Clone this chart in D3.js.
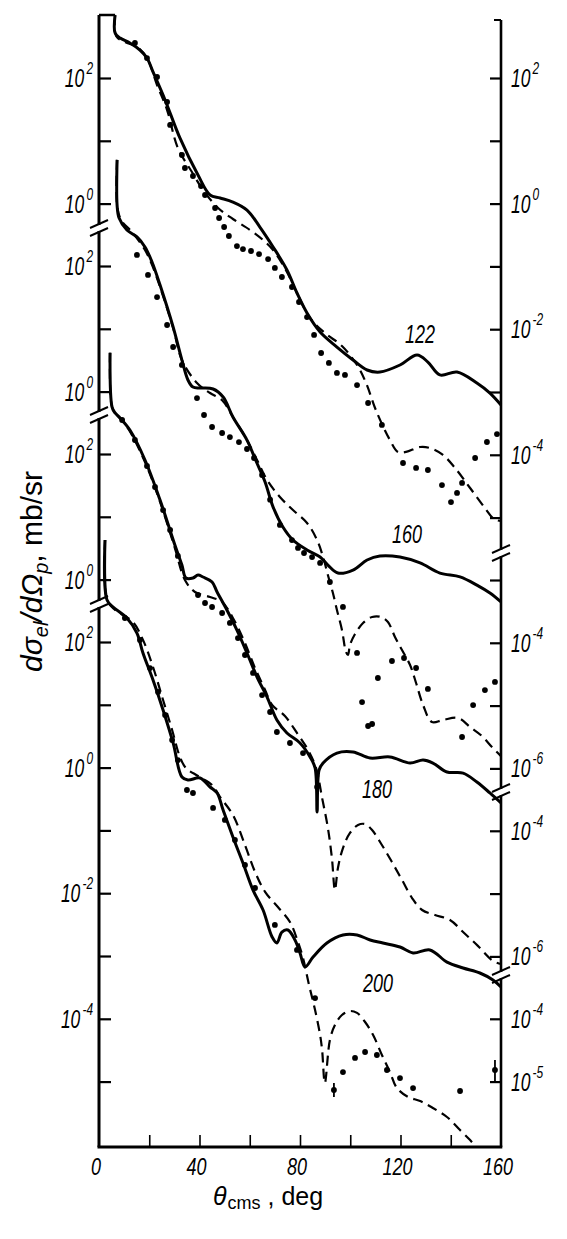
<!DOCTYPE html>
<html><head><meta charset="utf-8">
<script src="https://cdn.jsdelivr.net/npm/d3@7"></script>
<style>html,body{margin:0;padding:0;background:#fff}svg{display:block}</style>
</head><body>
<svg id="c" width="567" height="1239"></svg>
<script>
// ---------------- DATA (theta in deg, cross section in mb/sr) ----------------
const energies = ["122", "160", "180", "200"];
const xTickValues = [20, 40, 60, 80, 100, 120, 140];
const xTickLabels = [0, 40, 80, 120, 160];

// 122 MeV
const s122 = [[6.4,1000],[6.4,520],[8.4,433],[12.3,361],[16.3,279],[19.1,208],[21.5,125],[26.3,44.7],[32.2,11.1],[39.4,2.85],[44.2,1.37],[48.2,1.23],[53.3,1.06],[58.9,0.79],[64.1,0.42],[69.3,0.204],[74.8,0.0877],[78.8,0.0377],[82.8,0.0181],[88.0,0.009],[94.7,0.0052],[101.1,0.00324],[106.7,0.00224],[111.8,0.00208],[119.8,0.00269],[126.6,0.00388],[130.9,0.003],[135.7,0.00187],[142.5,0.00208],[150.4,0.00139],[155.6,0.00096],[160,0.00062]];
const d122 = [[6.4,1000],[6.8,467],[10.3,374],[15.1,312],[19.1,208],[23.1,77.4],[27.1,30.9],[31.4,7.67],[37.0,3.18],[41.4,1.65],[47.4,0.85],[53.3,0.569],[60.1,0.38],[65.3,0.263],[69.3,0.182],[74.8,0.0815],[78.8,0.0377],[84.0,0.0151],[89.9,0.0087],[96.7,0.0054],[102.7,0.00269],[106.3,0.00139],[110.2,0.000516],[115.8,0.000172],[119.0,0.000111],[122.2,0.000111],[127.8,0.000133],[131.7,0.000128],[136.9,0.0000993],[141.7,0.0000617],[147.7,0.0000296],[153.6,0.0000142],[157.2,0.0000095],[160,0.0000088]];
const o122 = [[14.3,361],[19.1,208],[23.1,104],[27.1,41.5],[28.3,17.9],[33.0,5.94],[34.2,3.69],[37.4,2.75],[40.6,1.9],[42.2,1.37],[46.2,0.851],[47.8,0.59],[49.8,0.424],[51.7,0.305],[54.9,0.211],[57.3,0.189],[60.5,0.176],[63.7,0.157],[67.3,0.131],[70.0,0.0944],[72.8,0.0678],[76.8,0.047],[79.6,0.0271],[82.8,0.0156],[85.6,0.0081],[88.4,0.00418],[91.5,0.0029],[94.7,0.00201],[97.9,0.00187],[102.7,0.00129],[107.1,0.000668],[112.6,0.000299],[121.0,0.000074],[126.2,0.0000617],[130.9,0.0000573],[136.5,0.000033],[140.1,0.0000177],[142.5,0.0000247],[144.5,0.0000356],[149.7,0.0000889],[154.4,0.00016],[158.4,0.000214]];

// 160 MeV
const s160 = [[7.2,4900],[7.2,935],[8.0,581],[11.1,374],[15.1,290],[18.3,201],[21.1,116],[24.3,49.8],[29.5,10.7],[33.0,3.18],[35.4,1.53],[37.4,1.18],[40.2,1.14],[45.4,1.1],[49.4,0.82],[53.3,0.394],[58.9,0.169],[62.5,0.0785],[66.1,0.0364],[69.3,0.0145],[73.2,0.00698],[77.2,0.00433],[82.8,0.00301],[88.0,0.00232],[91.1,0.00173],[95.1,0.00129],[101.1,0.00144],[106.7,0.00208],[111.8,0.00241],[119.8,0.00232],[127.8,0.00187],[135.7,0.00129],[143.7,0.00112],[150.4,0.00083],[155.6,0.00062],[160,0.000447]];
const d160 = [[7.2,4900],[7.2,935],[8.8,540],[13.5,335],[18.3,180],[21.1,104],[24.3,46.4],[29.5,10.3],[33.0,3.18],[39.0,1.37],[44.2,0.95],[49.0,0.73],[53.3,0.394],[58.9,0.169],[63.3,0.0757],[66.9,0.0391],[72.0,0.021],[77.2,0.013],[82.8,0.0081],[86.8,0.00433],[89.2,0.00232],[91.1,0.0012],[93.1,0.00062],[94.7,0.000333],[96.7,0.00016],[98.3,0.0000715],[99.1,0.000064],[99.9,0.0000923],[101.9,0.000138],[105.1,0.000207],[108.7,0.000258],[112.2,0.000258],[115.0,0.000214],[117.8,0.000124],[120.6,0.0000767],[123.8,0.0000443],[126.2,0.0000229],[129.0,0.0000102],[132.5,0.00000548],[136.9,0.0000059],[142.9,0.00000635],[147.7,0.00000456],[152.4,0.00000328],[156.4,0.00000219],[160,0.00000157]];
const o160 = [[15.1,150],[19.5,72],[23.1,32],[27.1,11.5],[29.5,5.13],[33.0,2.66],[39.0,0.79],[41.8,0.424],[45.0,0.273],[49.0,0.219],[52.1,0.189],[55.7,0.157],[58.9,0.122],[61.7,0.0877],[64.9,0.047],[68.1,0.019],[72.0,0.00752],[76.8,0.00433],[79.2,0.00324],[81.6,0.00269],[84.8,0.00232],[88.0,0.00187],[91.9,0.00093],[97.1,0.000372],[102.7,0.0000689],[104.7,0.0000114],[107.1,0.00000473],[108.7,0.00000509],[111.0,0.0000275],[116.6,0.0000513],[121.4,0.0000573],[126.2,0.0000397],[130.9,0.0000184],[144.5,0.00000316],[148.9,0.0000102],[153.6,0.0000177],[157.6,0.0000238]];

// 180 MeV
const s180 = [[4.4,4100],[5.2,560],[6.4,450],[8.4,374],[12.3,241],[18.3,80.2],[24.3,18.5],[30.2,3.56],[33.0,1.71],[34.6,1.06],[37.4,1.06],[39.4,1.18],[41.4,1.1],[45.0,0.916],[47.0,0.635],[50.9,0.328],[54.9,0.157],[58.9,0.0678],[62.9,0.0281],[66.9,0.0135],[70.8,0.00581],[74.8,0.00361],[80.0,0.0025],[84.0,0.0015],[86.0,0.001],[86.8,0.000199],[87.6,0.00093],[89.2,0.0012],[94.7,0.00173],[101.1,0.0018],[107.9,0.00144],[115.8,0.0015],[123.8,0.0012],[129.0,0.00134],[132.9,0.0012],[138.5,0.000863],[144.9,0.00083],[150.4,0.000598],[155.6,0.0004],[160,0.000277]];
const d180 = [[4.4,4100],[5.2,560],[7.2,418],[11.5,259],[18.3,74.6],[24.3,17.2],[30.2,3.18],[34.2,0.986],[38.2,0.635],[44.2,0.528],[49.0,0.44],[53.3,0.245],[58.1,0.0977],[62.1,0.0391],[66.1,0.0175],[68.9,0.0101],[74.0,0.00673],[78.8,0.00361],[83.2,0.00194],[86.4,0.001],[88.8,0.000333],[91.1,0.000111],[92.7,0.0000369],[93.9,0.0000114],[95.1,0.0000256],[97.1,0.0000532],[99.9,0.0000923],[103.1,0.000124],[105.9,0.000128],[108.7,0.000103],[112.6,0.0000594],[116.6,0.0000318],[120.6,0.0000165],[124.6,0.0000085],[128.6,0.00000548],[133.7,0.00000456],[139.7,0.0000038],[144.9,0.00000245],[150.8,0.00000147],[156.8,0.000000845],[160,0.000000757]];
const o180 = [[9.2,348],[14.3,167],[19.1,64.4],[22.3,29.8],[25.5,12.8],[28.3,6.17],[31.4,2.38],[39.4,0.569],[42.2,0.424],[45.0,0.366],[49.0,0.294],[52.1,0.204],[55.3,0.117],[58.1,0.063],[61.3,0.0326],[64.9,0.0145],[68.1,0.0078],[70.8,0.00374],[76.0,0.0025],[81.2,0.00173],[86.8,0.000498]];

// 200 MeV
const s200 = [[2.4,4200],[3.2,467],[5.6,361],[11.1,241],[15.1,139],[17.5,66.8],[21.5,24.8],[25.5,8.26],[29.5,2.47],[33.0,0.708],[35.4,0.635],[40.2,0.683],[44.2,0.491],[47.0,0.394],[49.4,0.211],[53.3,0.0785],[57.3,0.0303],[61.3,0.0112],[65.3,0.0054],[68.9,0.00201],[70.8,0.00161],[72.8,0.00241],[75.2,0.00259],[78.0,0.0018],[80.0,0.00112],[82.0,0.000668],[85.2,0.00096],[90.7,0.00161],[97.1,0.00216],[102.7,0.00216],[107.9,0.0018],[113.0,0.00161],[119.8,0.00139],[125.0,0.00112],[131.7,0.00125],[138.5,0.0008],[144.9,0.000644],[151.6,0.000536],[156.8,0.000415],[160,0.000321]];
const d200 = [[2.4,4200],[3.2,467],[6.4,324],[13.5,208],[17.5,108],[21.5,40],[25.5,11.9],[29.1,3.97],[32.2,1.48],[34.6,0.986],[39.4,0.734],[45.0,0.528],[48.2,0.34],[53.3,0.176],[58.1,0.0586],[62.1,0.0218],[66.1,0.0105],[71.2,0.00603],[76.0,0.00348],[79.2,0.00167],[81.2,0.00093],[83.6,0.000345],[86.0,0.000138],[88.0,0.0000552],[88.8,0.0000318],[89.9,0.0000095],[91.9,0.0000459],[93.9,0.0000796],[96.7,0.000115],[99.9,0.000133],[102.7,0.000124],[105.9,0.0000889],[109.1,0.0000552],[112.6,0.0000265],[115.8,0.0000142],[118.6,0.0000079],[123.0,0.00000569],[127.8,0.00000491],[132.9,0.0000038],[138.5,0.00000273],[143.7,0.00000169],[147.7,0.00000117],[150.1,0.00000091]];
const o200 = [[10.3,241],[16.3,108],[20.3,38.5],[23.5,16],[26.3,6.89],[29.1,2.75],[31.4,1.32],[35.0,0.44],[37.4,0.394],[45.4,0.228],[50.1,0.147],[54.1,0.0703],[58.1,0.0281],[62.1,0.0121],[70.0,0.00312],[78.8,0.00125],[86.0,0.000214],[93.5,0.00000735],[97.1,0.0000142],[101.9,0.0000238],[105.9,0.0000296],[110.6,0.0000265],[114.6,0.0000153],[119.8,0.0000114],[125.0,0.0000079],[143.7,0.00000708],[157.6,0.0000153]];
const e200 = [[93.5,0.0000057,0.0000095],[157.6,0.0000099,0.000022]];

// axis tick values per panel (left / right), and which of them carry labels
const leftTicks   = [[100,10,1],[100,10,1],[100,10,1],[100,10,1,0.1,0.01,1e-3,1e-4,1e-5]];
const leftLabels  = [[100,1],[100,1],[100,1],[100,1,0.01,1e-4]];
const rightTicks  = [[100,10,1,0.1,0.01,1e-3,1e-4,1e-5],[1e-3,1e-4,1e-5,1e-6],[1e-4,1e-5,1e-6],[1e-4,1e-5]];
const rightLabels = [[100,1,0.01,1e-4],[1e-4,1e-6],[1e-4,1e-6],[1e-4,1e-5]];

const solids = [s122, s160, s180, s200];
const dasheds = [d122, d160, d180, d200];
const dotsets = [o122, o160, o180, o200];

// ---------------- LAYOUT ----------------
const svg = d3.select("#c");
svg.append("rect").attr("width",567).attr("height",1239).attr("fill","#fff");
const X0 = 99, X1 = 501, YB = 1147;
const x = d3.scaleLinear().domain([0,160]).range([X0,X1]);
const panelTop = [78, 266, 454, 642];   // pixel of 10^2 in each stacked panel
const DEC = 62.8;                        // pixels per decade
const ys = panelTop.map(t => d3.scaleLog().domain([100,1e-4]).range([t, t+6*DEC]));
const leftSeg  = [[15,225],[231,412],[418,601],[607,YB]];
const rightSeg = [[20,550],[556,789],[795,972],[978,YB]];
const labelPos = [[420,343],[407,543],[377,798],[378,992]];
const FONT = "'Liberation Sans', Arial, sans-serif";

const ink = "#000";
// axes lines
const gA = svg.append("g").attr("stroke",ink).attr("stroke-linecap","butt");
leftSeg.forEach(s => gA.append("line").attr("x1",X0).attr("x2",X0).attr("y1",s[0]).attr("y2",s[1]).attr("stroke-width",3));
rightSeg.forEach(s => gA.append("line").attr("x1",X1).attr("x2",X1).attr("y1",s[0]).attr("y2",s[1]).attr("stroke-width",2.6));
gA.append("line").attr("x1",X0-1.5).attr("x2",X1+1.3).attr("y1",YB).attr("y2",YB).attr("stroke-width",3);
gA.append("line").attr("x1",X0).attr("x2",x(6.4)).attr("y1",15).attr("y2",15).attr("stroke-width",2.5);
gA.append("line").attr("x1",X1-7).attr("x2",X1).attr("y1",20).attr("y2",20).attr("stroke-width",2);

// axis breaks
function brk(ax, a, b){
  [a-1, b+1].forEach(c => gA.append("line").attr("x1",ax-9).attr("y1",c+4).attr("x2",ax+9).attr("y2",c-4).attr("stroke-width",2));
}
for (let i=0;i<3;i++){ brk(X0, leftSeg[i][1], leftSeg[i+1][0]); brk(X1, rightSeg[i][1], rightSeg[i+1][0]); }

// ticks via d3 axes
function styleAxis(g){ g.select(".domain").remove(); g.selectAll("line").attr("stroke",ink).attr("stroke-width",2.2); g.selectAll("text").remove(); }
ys.forEach((y,i)=>{
  svg.append("g").attr("transform",`translate(${X0},0)`).call(d3.axisRight(y).tickValues(leftTicks[i]).tickSize(12)).call(styleAxis);
  svg.append("g").attr("transform",`translate(${X1},0)`).call(d3.axisLeft(y).tickValues(rightTicks[i]).tickSize(11)).call(styleAxis);
});
svg.append("g").attr("transform",`translate(0,${YB})`).call(d3.axisTop(x).tickValues(xTickValues).tickSize(12)).call(g=>{styleAxis(g); g.selectAll("line").attr("stroke-width",1.6);});

// tick labels "10^n"
function powLabel(px, py, v, anchor){
  const e = Math.round(Math.log10(v));
  const g = svg.append("g").attr("transform",`translate(${px},${py}) scale(0.7,1)`);
  const t = g.append("text").attr("text-anchor",anchor).attr("font-family",FONT).attr("font-style","italic").attr("font-size",25).attr("fill",ink);
  t.append("tspan").text("10");
  t.append("tspan").attr("font-size",17).attr("dy",-13).attr("dx",3).text(e<0 ? "-"+(-e) : String(e));
}
ys.forEach((y,i)=>{
  leftLabels[i].forEach(v => powLabel(93, y(v)+9, v, "end"));
  rightLabels[i].forEach(v => powLabel(511, y(v)+9, v, "start"));
});

// bottom labels
xTickLabels.forEach(v=>{
  svg.append("g").attr("transform",`translate(${x(v)-3},${YB+28}) scale(0.75,1)`)
    .append("text").attr("text-anchor","middle").attr("font-family",FONT).attr("font-style","italic").attr("font-size",24).attr("fill",ink).text(v);
});

// curves
ys.forEach((y,i)=>{
  const line = d3.line().x(d=>x(d[0])).y(d=>y(d[1])).curve(d3.curveCatmullRom.alpha(0.5));
  svg.append("path").datum(dasheds[i]).attr("d",line).attr("fill","none").attr("stroke",ink).attr("stroke-width",2.2).attr("stroke-dasharray","10,6");
  svg.append("path").datum(solids[i]).attr("d",line).attr("fill","none").attr("stroke",ink).attr("stroke-width",3).attr("stroke-linejoin","round");
  svg.append("g").selectAll("circle").data(dotsets[i]).join("circle").attr("cx",d=>x(d[0])).attr("cy",d=>y(d[1])).attr("r",2.9).attr("fill",ink);
  svg.append("g").attr("transform",`translate(${labelPos[i][0]},${labelPos[i][1]}) scale(0.72,1)`)
    .append("text").attr("text-anchor","middle").attr("font-family",FONT).attr("font-style","italic").attr("font-size",25).attr("fill",ink).text(energies[i]);
});
// error bars (200 MeV)
svg.append("g").selectAll("line").data(e200).join("line").attr("x1",d=>x(d[0])).attr("x2",d=>x(d[0])).attr("y1",d=>ys[3](d[1])).attr("y2",d=>ys[3](d[2])).attr("stroke",ink).attr("stroke-width",1.8);

// axis titles
const xt = svg.append("text").attr("x",213).attr("y",1205).attr("font-family",FONT).attr("font-size",25).attr("fill",ink);
xt.append("tspan").attr("font-style","italic").text("θ");
xt.append("tspan").attr("font-size",18).attr("dy",4).attr("dx",1).text("cms");
xt.append("tspan").attr("dy",-4).text(" , deg");

const yt = svg.append("g").attr("transform","translate(42,672) rotate(-90)")
  .append("text").attr("font-family",FONT).attr("font-size",30).attr("fill",ink);
yt.append("tspan").attr("font-style","italic").text("dσ");
yt.append("tspan").attr("font-style","italic").attr("font-size",20).attr("dy",6).text("el");
yt.append("tspan").attr("font-style","italic").attr("dy",-6).text("/dΩ");
yt.append("tspan").attr("font-style","italic").attr("font-size",20).attr("dy",6).text("p");
yt.append("tspan").attr("dy",-6).text(", mb/sr");
</script>
</body></html>
